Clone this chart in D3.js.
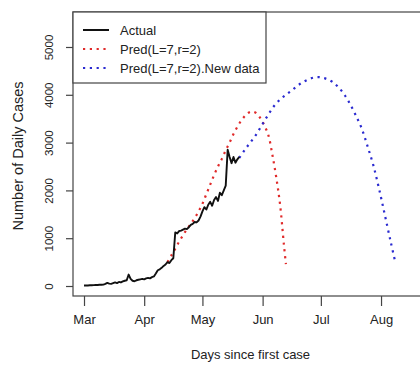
<!DOCTYPE html>
<html>
<head>
<meta charset="utf-8">
<script src="https://cdn.jsdelivr.net/npm/d3@7"></script>
<style>
  html, body { margin: 0; padding: 0; background: #fff; }
  svg { display: block; font-family: "Liberation Sans", Arial, sans-serif; }
</style>
</head>
<body>
<svg id="chart" width="420" height="365"></svg>
<script>
// Daily case counts, one value per day starting 1 March 2020
const actualStart = "2020-03-01";
const actualValues = [
  10, 10, 12, 15, 15, 18, 20, 20, 25, 25,
  30, 45, 65, 50, 45, 60, 75, 60, 85, 75,
  95, 110, 120, 240, 150, 110, 100, 120, 130, 140,
  150, 140, 160, 170, 160, 185, 200, 260, 330, 350,
  380, 420, 450, 500, 480, 540, 580, 1120, 1100, 1150,
  1160, 1180, 1200, 1190, 1230, 1280, 1300, 1340, 1330, 1370,
  1450, 1560, 1650, 1600, 1700, 1760, 1680, 1800, 1860, 1780,
  1950, 1900, 2000, 2100, 2850, 2700, 2570, 2700, 2580, 2650, 2700
];

// Fitted model, days since 1 March 2020
const predDays = [43, 45, 47, 49, 51, 53, 55, 57, 59, 61, 63, 65, 67, 69, 71, 73, 75, 77,
  79, 81, 83, 85, 87, 89, 91, 93, 95, 97, 99, 101, 103, 104];
const predValues = [500, 640, 780, 930, 1060, 1190, 1300, 1420, 1560, 1720, 1920, 2120, 2320,
  2500, 2660, 2840, 3000, 3180, 3330, 3460, 3560, 3630, 3650, 3610, 3500, 3350, 3150, 2750,
  2280, 1700, 850, 460];

// Refit with the newer data, days since 1 March 2020
const newDays = [80, 83, 86, 89, 92, 95, 98, 101, 104, 107, 110, 113, 116, 119, 122, 125, 128,
  131, 134, 137, 140, 143, 146, 149, 152, 155, 158, 160];
const newValues = [2680, 2860, 3020, 3190, 3390, 3590, 3770, 3900, 4000, 4090, 4190, 4270,
  4330, 4365, 4365, 4330, 4270, 4160, 4010, 3810, 3570, 3300, 2930, 2530, 2030, 1480, 920, 560];

const yTicks = [0, 1000, 2000, 3000, 4000, 5000];
const monthTicks = ["2020-03-01", "2020-04-01", "2020-05-01", "2020-06-01", "2020-07-01", "2020-08-01"];
const legendLabels = ["Actual", "Pred(L=7,r=2)", "Pred(L=7,r=2).New data"];

(function () {
  const base = new Date(actualStart + "T00:00:00Z");
  const dayMs = 86400000;
  const dayToDate = d => new Date(base.getTime() + d * dayMs);

  const svg = d3.select("#chart");
  const mLeft = 73, mRight = 422, mTop = 12, mBottom = 296;

  const x = d3.scaleUtc()
    .domain([dayToDate(-5.67), dayToDate(174.1)])
    .range([mLeft, mRight]);
  const y = d3.scaleLinear()
    .domain([-209, 5732])
    .range([mBottom, mTop]);

  const line = d3.line()
    .x(d => x(d[0]))
    .y(d => y(d[1]));

  const textColor = "#222";
  const axisColor = "#444";

  // Plot frame
  svg.append("rect")
    .attr("x", mLeft).attr("y", mTop)
    .attr("width", mRight - mLeft).attr("height", mBottom - mTop)
    .attr("fill", "none").attr("stroke", axisColor).attr("stroke-width", 1.2);

  // Bottom axis with month labels
  const xAxis = d3.axisBottom(x)
    .tickValues(monthTicks.map(s => new Date(s + "T00:00:00Z")))
    .tickFormat(d3.utcFormat("%b"))
    .tickSize(10)
    .tickPadding(9);
  const gx = svg.append("g").attr("transform", `translate(0,${mBottom})`).call(xAxis);
  gx.select(".domain").remove();
  gx.selectAll(".tick line").attr("stroke", axisColor).attr("stroke-width", 1.2);
  gx.selectAll(".tick text")
    .attr("fill", textColor)
    .style("font-size", "13px")
    .style("font-family", "'Liberation Sans', Arial, sans-serif");

  // Left axis with rotated labels
  const yAxis = d3.axisLeft(y).tickValues(yTicks).tickFormat(d3.format("d")).tickSize(7);
  const gy = svg.append("g").attr("transform", `translate(${mLeft},0)`).call(yAxis);
  gy.select(".domain").remove();
  gy.selectAll(".tick line").attr("stroke", axisColor).attr("stroke-width", 1.2);
  gy.selectAll(".tick text")
    .attr("x", null).attr("dy", null)
    .attr("fill", textColor)
    .style("font-size", "11.5px")
    .style("font-family", "'Liberation Sans', Arial, sans-serif")
    .attr("text-anchor", "middle")
    .attr("dominant-baseline", "central")
    .attr("transform", "translate(-24,0) rotate(-90)");

  // Axis titles
  svg.append("text")
    .attr("x", (mLeft + mRight) / 2 + 3).attr("y", 359)
    .attr("text-anchor", "middle")
    .attr("fill", textColor)
    .style("font-size", "13px")
    .text("Days since first case");
  svg.append("text")
    .attr("transform", `translate(18,${(mTop + mBottom) / 2 + 2}) rotate(-90)`)
    .attr("text-anchor", "middle")
    .attr("dominant-baseline", "central")
    .attr("fill", textColor)
    .style("font-size", "14.5px")
    .text("Number of Daily Cases");

  // Series
  const actualPts = actualValues.map((v, i) => [dayToDate(i), v]);
  const predPts = predDays.map((d, i) => [dayToDate(d), predValues[i]]);
  const newPts = newDays.map((d, i) => [dayToDate(d), newValues[i]]);

  const smooth = d3.line().x(d => x(d[0])).y(d => y(d[1])).curve(d3.curveCatmullRom.alpha(0.5));

  svg.append("path")
    .datum(predPts)
    .attr("d", smooth)
    .attr("fill", "none")
    .attr("stroke", "#e02a2a")
    .attr("stroke-width", 2.2)
    .attr("stroke-dasharray", "2.2,4.6");

  svg.append("path")
    .datum(newPts)
    .attr("d", smooth)
    .attr("fill", "none")
    .attr("stroke", "#2a2ad0")
    .attr("stroke-width", 2.2)
    .attr("stroke-dasharray", "2.2,4.6");

  svg.append("path")
    .datum(actualPts)
    .attr("d", line)
    .attr("fill", "none")
    .attr("stroke", "#111")
    .attr("stroke-width", 1.9)
    .attr("stroke-linejoin", "round");

  // Legend
  const legend = svg.append("g");
  legend.append("rect")
    .attr("x", mLeft).attr("y", mTop)
    .attr("width", 266 - mLeft).attr("height", 83 - mTop)
    .attr("fill", "#fff").attr("stroke", axisColor).attr("stroke-width", 1.2);
  const legendStyles = [
    { color: "#111", dash: null },
    { color: "#e02a2a", dash: "2.2,4.6" },
    { color: "#2a2ad0", dash: "2.2,4.6" }
  ];
  legendLabels.forEach((lab, i) => {
    const ly = 30 + i * 19;
    legend.append("line")
      .attr("x1", 83).attr("x2", 109)
      .attr("y1", ly).attr("y2", ly)
      .attr("stroke", legendStyles[i].color)
      .attr("stroke-width", i === 0 ? 2 : 2.2)
      .attr("stroke-dasharray", legendStyles[i].dash);
    legend.append("text")
      .attr("x", 120).attr("y", ly)
      .attr("dominant-baseline", "central")
      .attr("fill", textColor)
      .style("font-size", "13px")
      .text(lab);
  });
})();
</script>
</body>
</html>
